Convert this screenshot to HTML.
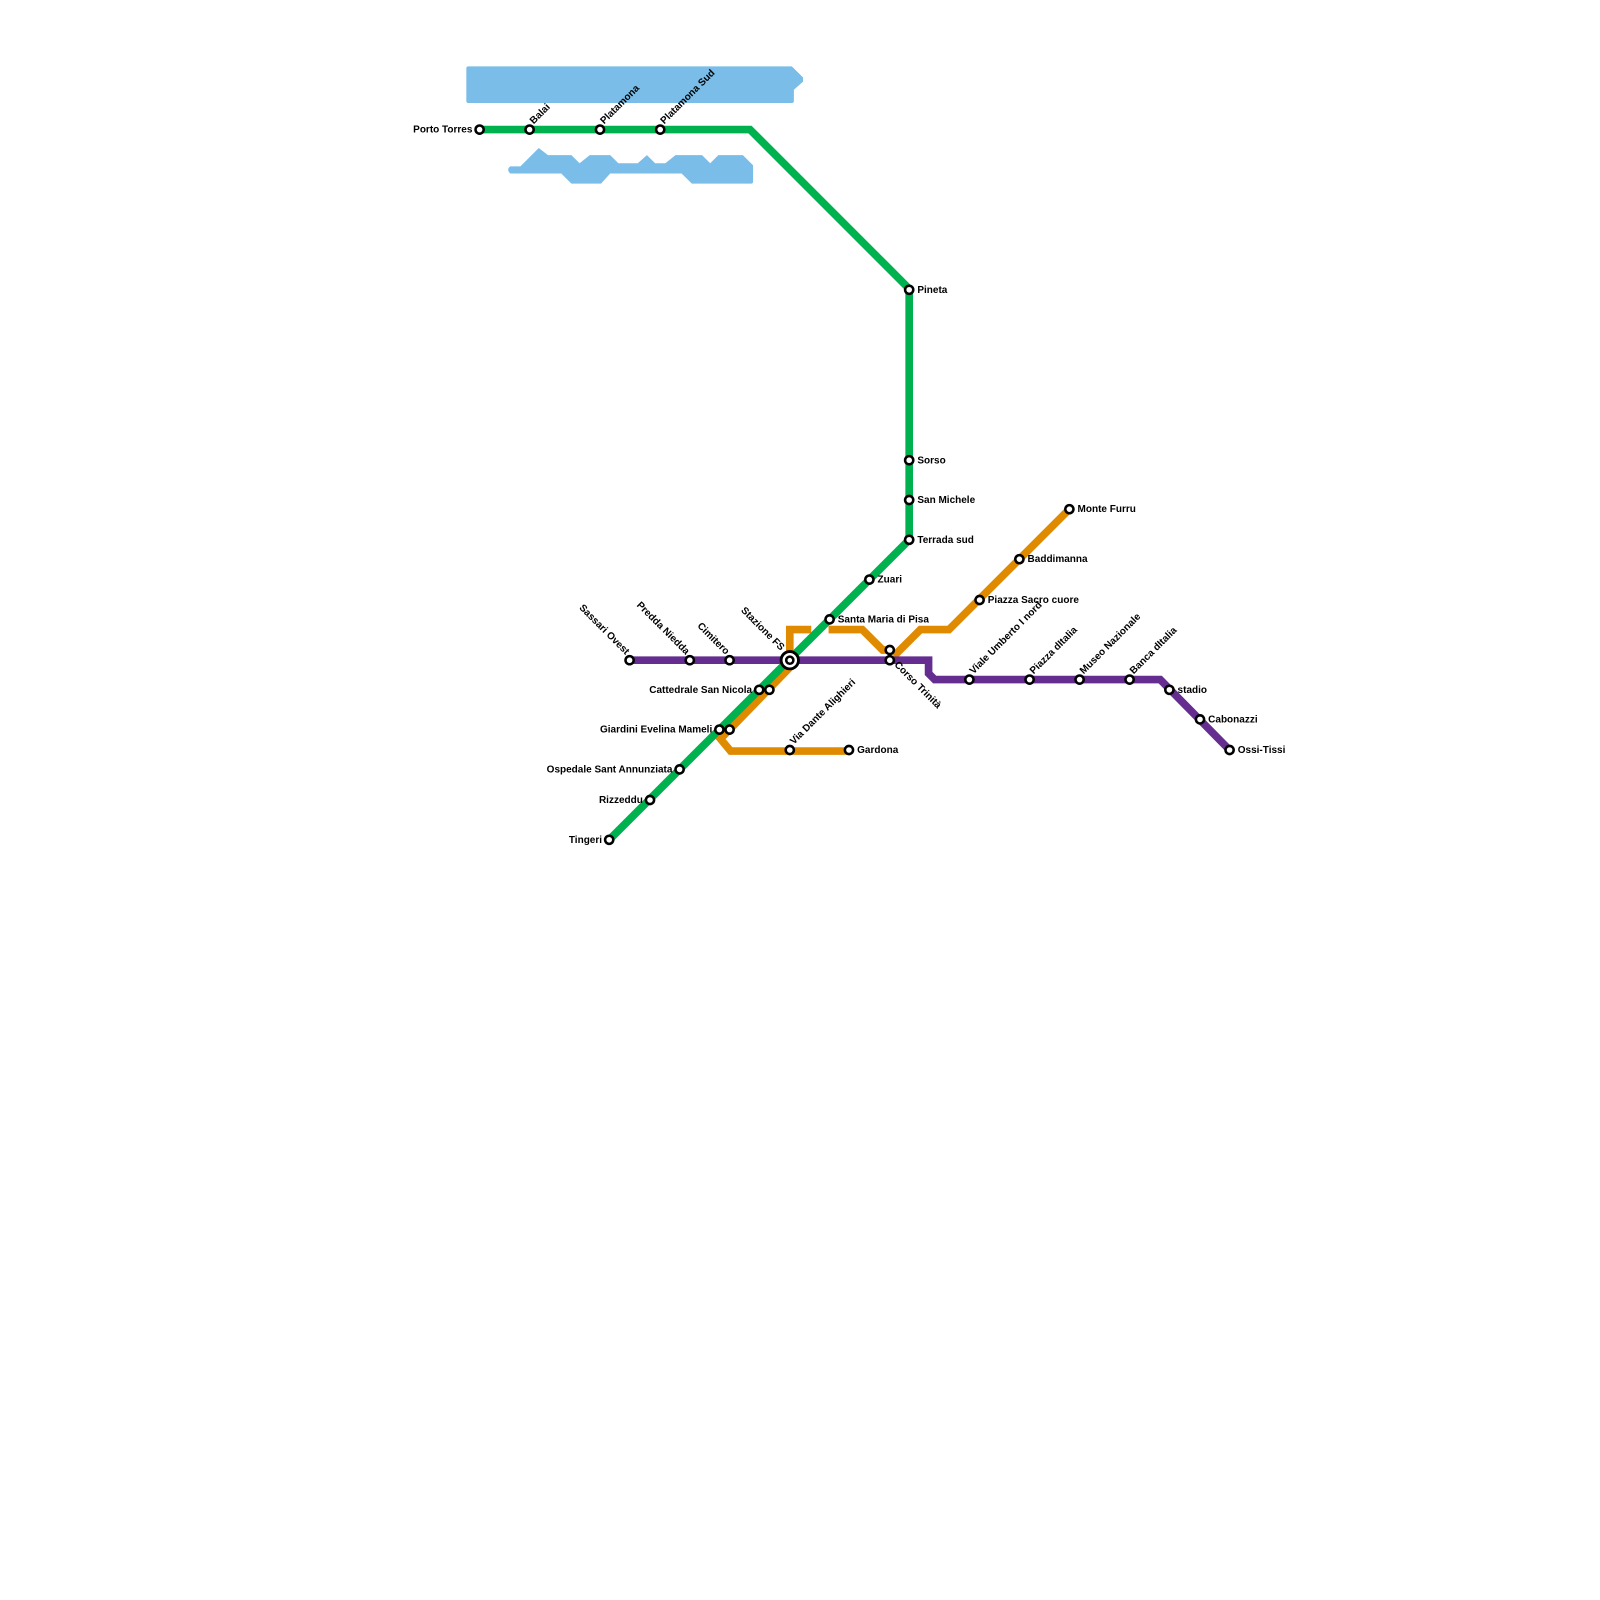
<!DOCTYPE html>
<html><head><meta charset="utf-8"><style>
html,body{margin:0;padding:0;background:#fff;}
svg{display:block;}
text{font-family:"Liberation Sans",Arial,sans-serif;font-weight:bold;font-size:9.8px;fill:#000;}
</style></head><body>
<svg width="1600" height="1600" viewBox="0 0 1568 1568" xmlns="http://www.w3.org/2000/svg">
<!-- water -->
<path d="M459,65 L776,65 L787,76 L787,80 L778,88 L778,99 Q778,101 776,101 L459,101 Q457,101 457,99 L457,67 Q457,65 459,65 Z" fill="#79bde8"/>
<path d="M500,163 L510,163 L528,145 L537,152 L560,152 L568,160 L578,152 L598,152 L606,160 L625,160 L634,152 L642,160 L652,160 L662,152 L688,152 L696,160 L704,152 L728,152 L738,162 L738,178 Q738,180 736,180 L678,180 L668,170 L598,170 L589,180 L560,180 L550,170 L500,170 Q496,166 500,163 Z" fill="#79bde8"/>
<!-- lines -->
<g fill="none" stroke-width="7.5" stroke-linejoin="miter">
<polyline stroke="#00b14f" points="470,127 735,127 891,283 891,529 597,823"/>
<polyline stroke="#e08a00" points="1048,499 930,617 902,617 876,643"/>
<polyline stroke="#e08a00" points="872,637 865,637 845,617 812,617"/>
<polyline stroke="#e08a00" points="795,617 774,617 774,647"/>
<polyline stroke="#e08a00" points="776,652 715,715 706,724 716,736 832,736"/>
<polyline stroke="#662d91" points="617,647 910,647 910,660 916,666 1137,666 1205,735"/>
<polyline stroke="#00b14f" points="891,529 597,823"/>
</g>
<!-- stations -->
<g fill="#fff" stroke="#000" stroke-width="2.5">
<circle cx="470" cy="127" r="4"/><circle cx="519" cy="127" r="4"/><circle cx="588" cy="127" r="4"/><circle cx="647" cy="127" r="4"/>
<circle cx="891" cy="284" r="4"/><circle cx="891" cy="451" r="4"/><circle cx="891" cy="490" r="4"/><circle cx="891" cy="529" r="4"/>
<circle cx="852" cy="568" r="4"/><circle cx="813" cy="607" r="4"/>
<circle cx="744" cy="676" r="4"/><circle cx="754" cy="676" r="4"/>
<circle cx="705" cy="715" r="4"/><circle cx="715" cy="715" r="4"/>
<circle cx="666" cy="754" r="4"/><circle cx="637" cy="784" r="4"/><circle cx="597" cy="823" r="4"/>
<circle cx="617" cy="647" r="4"/><circle cx="676" cy="647" r="4"/><circle cx="715" cy="647" r="4"/>
<circle cx="872" cy="637" r="4"/><circle cx="872" cy="647" r="4"/>
<circle cx="950" cy="666" r="4"/><circle cx="1009" cy="666" r="4"/><circle cx="1058" cy="666" r="4"/><circle cx="1107" cy="666" r="4"/>
<circle cx="1146" cy="676" r="4"/><circle cx="1176" cy="705" r="4"/><circle cx="1205" cy="735" r="4"/>
<circle cx="1048" cy="499" r="4"/><circle cx="999" cy="548" r="4"/><circle cx="960" cy="588" r="4"/>
<circle cx="774" cy="735" r="4"/><circle cx="832" cy="735" r="4"/>
<circle cx="774" cy="647" r="8.5" stroke-width="2.8"/><circle cx="774" cy="647" r="3.5"/>
</g>
<!-- labels -->
<text x="463" y="130" text-anchor="end">Porto Torres</text>
<text transform="translate(523,122) rotate(-45)">Balai</text>
<text transform="translate(592,122) rotate(-45)">Platamona</text>
<text transform="translate(651,122) rotate(-45)">Platamona Sud</text>
<text x="899" y="287">Pineta</text>
<text x="899" y="454">Sorso</text>
<text x="899" y="493">San Michele</text>
<text x="899" y="532">Terrada sud</text>
<text x="860" y="571">Zuari</text>
<text x="821" y="610">Santa Maria di Pisa</text>
<text x="737" y="679" text-anchor="end">Cattedrale San Nicola</text>
<text x="698" y="718" text-anchor="end">Giardini Evelina Mameli</text>
<text x="659" y="757" text-anchor="end">Ospedale Sant Annunziata</text>
<text x="630" y="787" text-anchor="end">Rizzeddu</text>
<text x="590" y="826" text-anchor="end">Tingeri</text>
<text transform="translate(613,642) rotate(45)" text-anchor="end">Sassari Ovest</text>
<text transform="translate(672,642) rotate(45)" text-anchor="end">Predda Niedda</text>
<text transform="translate(711,642) rotate(45)" text-anchor="end">Cimitero</text>
<text transform="translate(765,638) rotate(45)" text-anchor="end">Stazione FS</text>
<text transform="translate(876,652) rotate(45)">Corso Trinità</text>
<text transform="translate(954,661) rotate(-45)">Viale Umberto I nord</text>
<text transform="translate(1013,661) rotate(-45)">Piazza dItalia</text>
<text transform="translate(1062,661) rotate(-45)">Museo Nazionale</text>
<text transform="translate(1111,661) rotate(-45)">Banca dItalia</text>
<text x="1154" y="679">stadio</text>
<text x="1184" y="708">Cabonazzi</text>
<text x="1213" y="738">Ossi-Tissi</text>
<text x="1056" y="502">Monte Furru</text>
<text x="1007" y="551">Baddimanna</text>
<text x="968" y="591">Piazza Sacro cuore</text>
<text transform="translate(778,730) rotate(-45)">Via Dante Alighieri</text>
<text x="840" y="738">Gardona</text>
</svg>
</body></html>
